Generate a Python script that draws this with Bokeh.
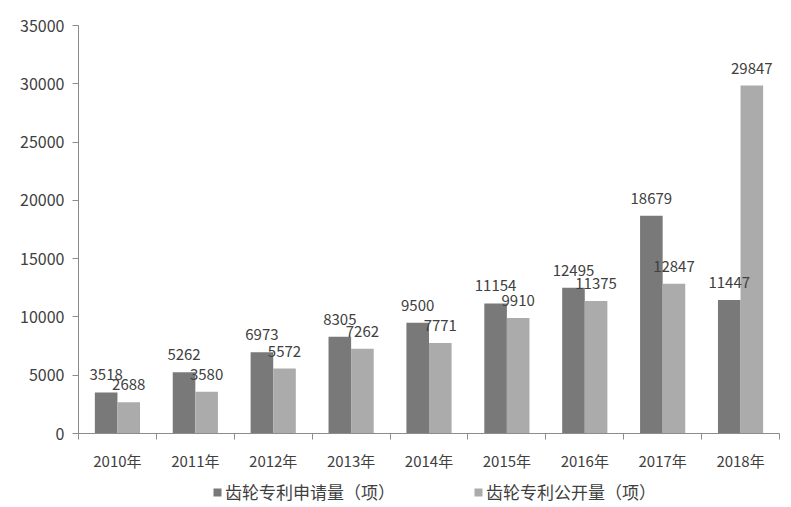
from bokeh.plotting import figure
from bokeh.layouts import column
from bokeh.models import ColumnDataSource, FixedTicker, Legend, LegendItem, LabelSet, Range1d
from bokeh.core.properties import value
from bokeh.transform import dodge
from bokeh.embed import file_html
from bokeh.resources import INLINE

years = ["2010年", "2011年", "2012年", "2013年", "2014年", "2015年", "2016年", "2017年", "2018年"]
applications = [3518, 5262, 6973, 8305, 9500, 11154, 12495, 18679, 11447]
publications = [2688, 3580, 5572, 7262, 7771, 9910, 11375, 12847, 29847]
series_names = ["齿轮专利申请量（项）", "齿轮专利公开量（项）"]
y_ticks = [0, 5000, 10000, 15000, 20000, 25000, 30000, 35000]

FONT = "Noto Sans CJK SC"
TEXT = "#404040"
DARK = "#797979"
LIGHT = "#ababab"
AXIS = "#8c8c8c"

centers = [i + 0.5 for i in range(len(years))]
src = ColumnDataSource(dict(
    x=centers,
    app=applications,
    pub=publications,
    app_lbl=[str(v) for v in applications],
    pub_lbl=[str(v) for v in publications],
))

W = 791
p = figure(width=W, height=475, output_backend="svg", toolbar_location=None,
           x_range=Range1d(0, len(years)), y_range=Range1d(0, 35000),
           min_border_left=78, min_border_right=12, min_border_top=25, min_border_bottom=42)
p.outline_line_color = None
p.grid.visible = False
p.background_fill_color = "white"

bw = 0.29
r1 = p.vbar(x=dodge("x", -bw / 2), top="app", width=bw, source=src,
            fill_color=DARK, line_color=None)
r2 = p.vbar(x=dodge("x", bw / 2), top="pub", width=bw, source=src,
            fill_color=LIGHT, line_color=None)

for col, lbl, off in (("app", "app_lbl", -bw / 2), ("pub", "pub_lbl", bw / 2)):
    ls = LabelSet(x=dodge("x", off), y=col, text=lbl, source=src,
                  text_align="center", text_baseline="bottom", y_offset=12,
                  text_font=value(FONT), text_font_size=value("15px"), text_color=value(TEXT))
    p.add_layout(ls)

# x axis: labels at category centers, tick marks at category boundaries
xa = p.xaxis[0]
xa.ticker = FixedTicker(ticks=centers, minor_ticks=list(range(len(years) + 1)))
xa.major_label_overrides = {c: y for c, y in zip(centers, years)}
xa.major_tick_out = 0
xa.major_tick_in = 0
xa.minor_tick_out = 6
xa.minor_tick_in = 0
xa.minor_tick_line_color = AXIS
xa.axis_line_color = AXIS
xa.major_label_standoff = 10
xa.major_label_text_font = FONT
xa.major_label_text_font_size = "15px"
xa.major_label_text_color = TEXT

ya = p.yaxis[0]
ya.ticker = FixedTicker(ticks=y_ticks)
ya.minor_tick_line_color = None
ya.major_tick_out = 6
ya.major_tick_in = 0
ya.major_tick_line_color = AXIS
ya.axis_line_color = AXIS
ya.major_label_standoff = 8
ya.major_label_text_font = FONT
ya.major_label_text_font_size = "16px"
ya.major_label_text_color = TEXT

# legend strip below the chart (its frame is aligned with the chart's frame)
lg = figure(width=W, height=32, output_backend="svg", toolbar_location=None,
            x_range=Range1d(0, 1), y_range=Range1d(0, 1),
            x_axis_location=None, y_axis_location=None,
            min_border_left=0, min_border_right=0, min_border_top=0, min_border_bottom=0)
lg.outline_line_color = None
lg.grid.visible = False
lr1 = lg.vbar(x=[0.5], top=[0], bottom=[0], width=0.0, fill_color=DARK, line_color=None)
lr2 = lg.vbar(x=[0.5], top=[0], bottom=[0], width=0.0, fill_color=LIGHT, line_color=None)
legend = Legend(items=[LegendItem(label=series_names[0], renderers=[lr1]),
                       LegendItem(label=series_names[1], renderers=[lr2])],
                orientation="horizontal", location=(134, 3),
                glyph_width=10, glyph_height=10, spacing=78, label_standoff=3,
                label_height=18, label_text_baseline="middle",
                label_text_font=FONT, label_text_font_size="17px", label_text_color=TEXT,
                border_line_color=None, background_fill_alpha=0, padding=0, margin=0)
lg.add_layout(legend, "center")

open("out.html", "w").write(file_html(column(p, lg, spacing=0), INLINE))
